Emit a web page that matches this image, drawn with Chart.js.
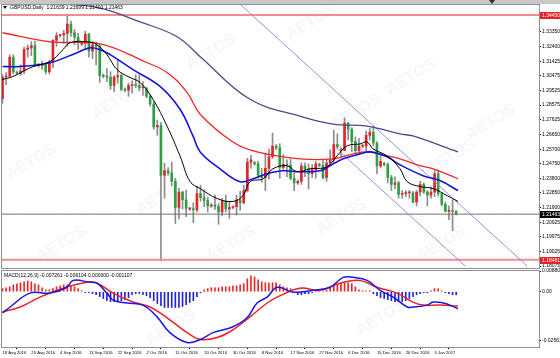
<!DOCTYPE html>
<html>
<head>
<meta charset="utf-8">
<script src="https://cdn.jsdelivr.net/npm/chart.js@4.4.0/dist/chart.umd.min.js"></script>
<style>
  html, body { margin: 0; padding: 0; background: #fff; }
  #wrap { position: relative; width: 560px; height: 358px; overflow: hidden; }
  canvas { position: absolute; left: 0; }
  #price { top: 0; }
  #macd { top: 266px; }
</style>
</head>
<body>
<div id="wrap">
  <canvas id="price" width="560" height="272"></canvas>
  <canvas id="macd" width="560" height="92"></canvas>
</div>
<script>
// daily bars, 16 Aug 2016 .. 12 Jan 2017 (sunday bars included)
const opens = [1.2900,1.3040,1.3045,1.3170,1.3070,1.3065,1.3080,1.3220,1.3230,1.3245,1.3120,1.3115,1.3120,1.3075,1.3135,1.3280,1.3310,1.3315,1.3325,1.3385,1.3330,1.3300,1.3255,1.3260,1.3320,1.3210,1.3250,1.3240,1.3050,1.3045,1.3040,1.2985,1.3040,1.3050,1.2960,1.2955,1.2985,1.2990,1.2985,1.2970,1.2965,1.2915,1.2865,1.2715,1.2725,1.2400,1.2430,1.2415,1.2360,1.2190,1.2290,1.2240,1.2180,1.2180,1.2175,1.2280,1.2255,1.2235,1.2200,1.2205,1.2195,1.2160,1.2230,1.2180,1.2190,1.2195,1.2240,1.2220,1.2300,1.2485,1.2480,1.2475,1.2400,1.2385,1.2445,1.2520,1.2590,1.2580,1.2450,1.2470,1.2465,1.2380,1.2350,1.2360,1.2460,1.2440,1.2410,1.2435,1.2470,1.2465,1.2385,1.2480,1.2500,1.2600,1.2560,1.2560,1.2740,1.2700,1.2620,1.2560,1.2590,1.2590,1.2660,1.2680,1.2610,1.2460,1.2475,1.2470,1.2385,1.2340,1.2350,1.2275,1.2280,1.2285,1.2285,1.2225,1.2290,1.2340,1.2290,1.2270,1.2290,1.2410,1.2280,1.2210,1.2165,1.2170,1.21639];
const highs = [1.3055,1.3070,1.3185,1.3185,1.3080,1.3120,1.3235,1.3250,1.3270,1.3275,1.3130,1.3145,1.3135,1.3150,1.3285,1.3330,1.3320,1.3345,1.3445,1.3405,1.3350,1.3325,1.3270,1.3340,1.3325,1.3275,1.3270,1.3255,1.3060,1.3095,1.3075,1.3050,1.3150,1.3060,1.2970,1.3000,1.3015,1.3055,1.3055,1.3010,1.2975,1.2925,1.2880,1.2760,1.2745,1.2480,1.2450,1.2485,1.2380,1.2315,1.2295,1.2305,1.2190,1.2220,1.2330,1.2335,1.2305,1.2255,1.2215,1.2270,1.2215,1.2250,1.2270,1.2225,1.2200,1.2270,1.2295,1.2335,1.2510,1.2530,1.2490,1.2490,1.2445,1.2545,1.2570,1.2675,1.2600,1.2605,1.2535,1.2500,1.2505,1.2415,1.2370,1.2480,1.2480,1.2475,1.2470,1.2490,1.2480,1.2500,1.2500,1.2565,1.2695,1.2670,1.2580,1.2775,1.2745,1.2710,1.2650,1.2640,1.2600,1.2690,1.2705,1.2720,1.2620,1.2530,1.2485,1.2480,1.2400,1.2390,1.2360,1.2300,1.2300,1.2300,1.2295,1.2300,1.2360,1.2350,1.2300,1.2325,1.2430,1.2435,1.2285,1.2225,1.2200,1.2240,1.21699];
const lows = [1.2870,1.2990,1.3040,1.3060,1.3060,1.3050,1.3060,1.3170,1.3180,1.3110,1.3105,1.3090,1.3060,1.3060,1.3100,1.3240,1.3300,1.3260,1.3240,1.3305,1.3250,1.3220,1.3245,1.3220,1.3170,1.3160,1.3120,1.3005,1.3035,1.3010,1.2960,1.2945,1.3000,1.2950,1.2945,1.2915,1.2935,1.2970,1.2950,1.2920,1.2905,1.2850,1.2700,1.2660,1.1841,1.2250,1.2400,1.2330,1.2085,1.2115,1.2180,1.2130,1.2170,1.2090,1.2160,1.2230,1.2195,1.2160,1.2190,1.2175,1.2080,1.2135,1.2160,1.2120,1.2180,1.2140,1.2170,1.2215,1.2290,1.2445,1.2465,1.2380,1.2355,1.2300,1.2375,1.2510,1.2565,1.2380,1.2430,1.2390,1.2370,1.2300,1.2340,1.2340,1.2390,1.2310,1.2385,1.2380,1.2455,1.2375,1.2360,1.2460,1.2480,1.2570,1.2515,1.2560,1.2630,1.2555,1.2540,1.2540,1.2580,1.2560,1.2630,1.2590,1.2410,1.2450,1.2460,1.2350,1.2300,1.2310,1.2250,1.2250,1.2260,1.2250,1.2220,1.2200,1.2265,1.2280,1.2200,1.2250,1.2260,1.2265,1.2200,1.2160,1.2110,1.2037,1.21403];
const closes = [1.3040,1.3045,1.3170,1.3075,1.3065,1.3080,1.3220,1.3230,1.3245,1.3120,1.3115,1.3120,1.3075,1.3135,1.3280,1.3310,1.3315,1.3325,1.3385,1.3330,1.3300,1.3265,1.3260,1.3320,1.3210,1.3250,1.3240,1.3050,1.3045,1.3040,1.2985,1.3040,1.3050,1.2960,1.2955,1.2985,1.2990,1.2985,1.2970,1.2975,1.2915,1.2865,1.2715,1.2725,1.2400,1.2430,1.2415,1.2360,1.2190,1.2290,1.2240,1.2185,1.2180,1.2175,1.2280,1.2255,1.2235,1.2200,1.2205,1.2195,1.2160,1.2230,1.2180,1.2190,1.2195,1.2240,1.2220,1.2300,1.2485,1.2500,1.2475,1.2400,1.2385,1.2445,1.2520,1.2590,1.2580,1.2450,1.2470,1.2465,1.2380,1.2350,1.2360,1.2460,1.2440,1.2410,1.2435,1.2475,1.2465,1.2385,1.2480,1.2500,1.2600,1.2585,1.2560,1.2740,1.2700,1.2620,1.2560,1.2590,1.2590,1.2660,1.2680,1.2610,1.2460,1.2490,1.2470,1.2385,1.2340,1.2350,1.2275,1.2280,1.2285,1.2285,1.2225,1.2290,1.2340,1.2290,1.2270,1.2290,1.2410,1.2280,1.2210,1.2165,1.2170,1.2164,1.21463];

// moving averages, [bar, price]
const maFast = [[0,1.3024],[2.9,1.3044],[8.5,1.3109],[13.2,1.3141],[16.8,1.3219],[18.75,1.3264],[23.5,1.3270],[26.25,1.3251],[29,1.3186],[31.8,1.3089],[35.4,1.3037],[38.2,1.3005],[41.8,1.2895],[45.7,1.2720],[49.3,1.2526],[52.1,1.2358],[54.9,1.2313],[59.6,1.2248],[64,1.2229],[66.8,1.2267],[68.75,1.2358],[72.4,1.2377],[75.1,1.2442],[79,1.2462],[81.8,1.2423],[85.4,1.2442],[90.1,1.2455],[92.9,1.2526],[95.7,1.2591],[99.3,1.2604],[101.25,1.2617],[102.9,1.2572],[106.8,1.2526],[110.4,1.2442],[112.4,1.2358],[116,1.2326],[119.6,1.2313],[123.5,1.2267],[126.5,1.2229]];
const maMid = [[0,1.3109],[4.9,1.3109],[13.2,1.3134],[20.7,1.3199],[24.3,1.3231],[27.1,1.3219],[29.9,1.3186],[36.25,1.3089],[43.75,1.2979],[49.3,1.2830],[52.9,1.2656],[54.9,1.2552],[60.4,1.2442],[66,1.2358],[69.6,1.2377],[73.5,1.2410],[77.9,1.2429],[82.6,1.2423],[88.2,1.2429],[91,1.2462],[94.6,1.2507],[99.3,1.2539],[102.1,1.2552],[106.8,1.2520],[110.4,1.2468],[116.8,1.2397],[121.5,1.2365],[126.5,1.2300]];
const maSlow = [[0,1.3329],[13.2,1.3270],[25.1,1.3264],[29.9,1.3238],[35.4,1.3186],[38.2,1.3154],[45.7,1.3070],[51.25,1.2940],[54.9,1.2798],[64,1.2617],[70.7,1.2552],[82.6,1.2507],[91.8,1.2507],[97.4,1.2539],[101.25,1.2552],[106.8,1.2526],[110.4,1.2507],[116,1.2462],[119.6,1.2442],[126.5,1.2377]];
const maLong = [[15.1,1.3523],[27.1,1.3490],[38.2,1.3400],[48.5,1.3303],[54.9,1.3173],[68.75,1.2895],[82.6,1.2785],[91.8,1.2733],[101.25,1.2720],[110.4,1.2669],[114,1.2656],[126.5,1.2552]];

// trend channel and horizontal levels
const channelUpper = [[66.25,1.3510],[145.7,1.1808]];
const channelLower = [[93.75,1.2552],[128.5,1.1808]];
const levelValues = [1.34450, 1.18481, 1.21463];
const levelLabels = ['1.34450', '1.18481', '1.21463'];

// MACD(12,26,9)
const macdMain = [[0,-0.0090],[2.1,-0.0065],[7.6,-0.0006],[13.2,-0.0006],[17.9,0.0019],[19.6,0.0048],[24.3,0.0040],[26.25,0.0036],[29,-0.0006],[30.7,-0.0036],[34.6,-0.0048],[39,-0.0057],[42.9,-0.0107],[46.5,-0.0174],[51.25,-0.0216],[54.9,-0.0203],[58.5,-0.0174],[64,-0.0149],[67.9,-0.0111],[70.7,-0.0048],[73.5,-0.0023],[76.25,0.0019],[80.7,-0.0002],[86.25,0.0006],[91,0.0019],[94.6,0.0061],[97.4,0.0061],[101.25,0.0048],[104.9,0.0006],[108.5,-0.0023],[112.4,-0.0065],[114,-0.0065],[117.9,-0.0057],[119.6,-0.0044],[122.4,-0.0048],[124.3,-0.0057],[126.5,-0.0073]];
const macdSignal = [[0,-0.0086],[4.9,-0.0065],[10.4,-0.0023],[16.8,0.0015],[23.5,0.0040],[26.25,0.0036],[30.7,-0.0006],[36.25,-0.0044],[41,-0.0065],[45.7,-0.0111],[51.25,-0.0174],[54.9,-0.0203],[59.6,-0.0195],[64,-0.0162],[68.75,-0.0107],[73.5,-0.0048],[76.25,-0.0023],[82.6,0.0015],[88.2,0.0006],[93.75,0.0036],[99.3,0.0048],[104,0.0019],[109.6,-0.0006],[114,-0.0044],[116.8,-0.0057],[121.5,-0.0057],[126.5,-0.0061]];
const macdHist = [0.0013,0.0017,0.0021,0.0029,0.0034,0.0038,0.0042,0.0046,0.0042,0.0034,0.0029,0.0017,0.0008,
  0.0008,0.0013,0.0021,0.0025,0.0029,0.0029,0.0025,0.0021,0.0013,0.0004,
  -0.0004,-0.0004,-0.0008,-0.0013,-0.0021,-0.0029,-0.0038,-0.0042,-0.0042,-0.0038,-0.0038,-0.0034,
  -0.0025,-0.0013,-0.0008,-0.0008,-0.0013,-0.0017,-0.0025,-0.0038,-0.0050,-0.0059,-0.0067,-0.0067,-0.0067,-0.0067,-0.0067,-0.0063,-0.0055,-0.0046,-0.0038,-0.0021,-0.0004,
  0.0008,0.0013,0.0017,0.0017,0.0017,0.0021,0.0021,0.0021,0.0025,0.0025,0.0029,0.0034,0.0055,0.0067,0.0063,0.0050,0.0042,0.0038,0.0038,0.0038,0.0038,0.0029,0.0021,0.0017,0.0013,
  -0.0004,-0.0013,-0.0013,-0.0008,-0.0008,-0.0004,0.0004,0.0004,0.0004,0.0008,0.0017,0.0025,0.0029,0.0034,0.0038,0.0038,0.0034,0.0021,0.0008,0.0004,0.0004,0.0004,
  -0.0008,-0.0017,-0.0025,-0.0029,-0.0034,-0.0038,-0.0042,-0.0042,-0.0042,-0.0038,-0.0029,-0.0021,-0.0013,-0.0008,-0.0004,-0.0004,0.0004,0.0013,0.0013,0.0004,-0.0004,-0.0008,-0.0013,-0.0013];

// axes
const priceTicks = [1.34300,1.33350,1.32400,1.31425,1.30475,1.29525,1.28575,1.27625,1.26650,1.25700,1.24750,1.23800,1.22850,1.21900,1.20925,1.19975,1.19025,1.18075];
const macdTicks = [0.0088, 0, -0.0208];
const macdTickLabels = ['0.008807', '0.00', '-0.02561'];
const dateTicks = [0,8,16,24,32,40,48,56,64,72,80,88,96,104,112,120];
const dateLabels = ['18 Aug 2016','25 Aug 2016','4 Sep 2016','13 Sep 2016','22 Sep 2016','2 Oct 2016','11 Oct 2016','20 Oct 2016','30 Oct 2016','8 Nov 2016','17 Nov 2016','27 Nov 2016','6 Dec 2016','15 Dec 2016','26 Dec 2016','5 Jan 2017'];
const titleText = 'GBPUSD,Daily  1.21639 1.21699 1.21403 1.21463';
const macdTitle = 'MACD(12,26,9) -0.007261 -0.006104 0.000000 -0.001107';

const X_MIN = -0.14, X_MAX = 149;
const FONT = "'Liberation Sans', Arial, sans-serif";
const UP = '#e3242b', DOWN = '#2ea043';

const pts = arr => arr.map(p => ({ x: p[0], y: p[1] }));
const bars = opens.map((o, i) => i);

function lineSet(data, color, width, order) {
  return { type: 'line', data: pts(data), borderColor: color, borderWidth: width,
    pointRadius: 0, tension: 0.4, order: order };
}

const watermark = {
  id: 'watermark',
  beforeDatasetsDraw(chart, args, opts) {
    const ctx = chart.ctx;
    ctx.save();
    ctx.font = 'bold 16px ' + FONT;
    ctx.fillStyle = 'rgba(0,0,0,0.035)';
    opts.spots.forEach(s => {
      ctx.save();
      ctx.translate(s[0], s[1]);
      ctx.rotate(-0.55);
      ctx.fillText('AETOS', 0, 0);
      ctx.restore();
    });
    ctx.restore();
  }
};

const priceDecor = {
  id: 'priceDecor',
  afterDraw(chart) {
    const ctx = chart.ctx, a = chart.chartArea, y = chart.scales.y;
    ctx.save();
    ctx.fillStyle = '#c8c8c8';
    ctx.fillRect(0, 0, 560, 4);
    ctx.fillStyle = '#333';
    ctx.beginPath(); ctx.moveTo(489, 0); ctx.lineTo(495, 0); ctx.lineTo(492, 4); ctx.fill();
    ctx.strokeStyle = '#909090'; ctx.lineWidth = 1;
    ctx.strokeRect(a.left - 0.5, a.top - 0.5, a.right - a.left + 1, a.bottom - a.top + 1);
    ctx.fillStyle = '#000';
    ctx.beginPath(); ctx.moveTo(3, 6); ctx.lineTo(7, 6); ctx.lineTo(5, 9); ctx.fill();
    ctx.font = '5px ' + FONT;
    ctx.textBaseline = 'middle';
    ctx.fillText(titleText, 10, 8);
    levelValues.forEach((v, i) => {
      const py = Math.round(y.getPixelForValue(v));
      ctx.fillStyle = i === 2 ? '#000' : '#e8202a';
      ctx.fillRect(a.right + 1, py - 3, 20, 7);
      ctx.fillStyle = '#fff';
      ctx.fillText(levelLabels[i], a.right + 3, py + 0.5);
    });
    ctx.restore();
  }
};

const macdDecor = {
  id: 'macdDecor',
  afterDraw(chart) {
    const ctx = chart.ctx, a = chart.chartArea;
    ctx.save();
    ctx.strokeStyle = '#909090'; ctx.lineWidth = 1;
    ctx.strokeRect(a.left - 0.5, a.top - 0.5, a.right - a.left + 1, a.bottom - a.top + 1);
    ctx.fillStyle = '#000';
    ctx.font = '5px ' + FONT;
    ctx.textBaseline = 'middle';
    ctx.fillText(macdTitle, 4, a.top + 5);
    ctx.restore();
  }
};

const rightAxis = (min, max, ticks, labelFn) => ({
  position: 'right', min: min, max: max,
  afterBuildTicks: s => { s.ticks = ticks.map(v => ({ value: v })); },
  afterFit: s => { s.width = 21; },
  ticks: { autoSkip: false, padding: 1, color: '#000', font: { size: 5, family: FONT }, callback: labelFn },
  grid: { drawOnChartArea: false, tickLength: 2, color: '#000' },
  border: { display: true, color: '#606060' }
});

new Chart(document.getElementById('price'), {
  type: 'bar',
  data: {
    datasets: [
      { data: bars.map(i => ({ x: i, y: [lows[i], highs[i]] })), backgroundColor: '#8c8c8c',
        barThickness: 1, grouped: false, order: 9 },
      { data: bars.map(i => ({ x: i, y: [opens[i], closes[i]] })),
        backgroundColor: bars.map(i => closes[i] >= opens[i] ? UP : DOWN),
        barThickness: 2, minBarLength: 1, grouped: false, order: 8 },
      lineSet([[X_MIN, levelValues[0]], [X_MAX, levelValues[0]]], '#f28b8b', 2, 7),
      lineSet([[X_MIN, levelValues[1]], [X_MAX, levelValues[1]]], '#f28b8b', 2, 7),
      lineSet([[X_MIN, levelValues[2]], [X_MAX, levelValues[2]]], '#707070', 1, 7),
      lineSet(channelUpper, '#9090e8', 1, 6),
      lineSet(channelLower, '#9090e8', 1, 6),
      lineSet(maLong, '#4a4a8c', 1.3, 4),
      lineSet(maSlow, '#f02828', 1.3, 3),
      lineSet(maMid, '#1414dc', 1.6, 2),
      lineSet(maFast, '#000000', 1, 1)
    ]
  },
  options: {
    responsive: false, animation: false, devicePixelRatio: 1,
    layout: { padding: { left: 2, top: 5, bottom: 2, right: 0 } },
    plugins: { legend: { display: false }, tooltip: { enabled: false },
      watermark: { spots: [[10,180],[95,120],[190,70],[290,40],[390,95],[470,140],[40,262],[140,215],[240,175],[335,130],[430,175],[210,262],[320,235],[420,262]] } },
    scales: {
      x: { type: 'linear', min: X_MIN, max: X_MAX, offset: false, display: false },
      y: rightAxis(1.1795, 1.3510, priceTicks, v => v.toFixed(5))
    }
  },
  plugins: [watermark, priceDecor]
});

new Chart(document.getElementById('macd'), {
  type: 'bar',
  data: {
    datasets: [
      { data: bars.map(i => ({ x: i, y: macdHist[i] })),
        backgroundColor: bars.map(i => macdHist[i] >= 0 ? '#e82828' : '#2222d8'),
        barThickness: 1, grouped: false, order: 5 },
      lineSet(macdSignal, '#ee2222', 1.5, 2),
      lineSet(macdMain, '#1818e0', 1.5, 1)
    ]
  },
  options: {
    responsive: false, animation: false, devicePixelRatio: 1,
    layout: { padding: { left: 2, top: 5, bottom: 0, right: 0 } },
    plugins: { legend: { display: false }, tooltip: { enabled: false },
      watermark: { spots: [[150,80],[360,70]] } },
    scales: {
      x: { type: 'linear', min: X_MIN, max: X_MAX, offset: false,
        afterBuildTicks: s => { s.ticks = dateTicks.map(v => ({ value: v })); },
        afterFit: s => { s.height = 11; },
        ticks: { autoSkip: false, maxRotation: 0, align: 'start', padding: 1, color: '#000',
          font: { size: 4.2, family: FONT }, callback: (v, i) => dateLabels[i] },
        grid: { drawOnChartArea: false, tickLength: 2, color: '#000' },
        border: { display: true, color: '#606060' } },
      y: rightAxis(-0.0235, 0.0088, macdTicks, (v, i) => macdTickLabels[i])
    }
  },
  plugins: [watermark, macdDecor]
});
</script>
</body>
</html>
